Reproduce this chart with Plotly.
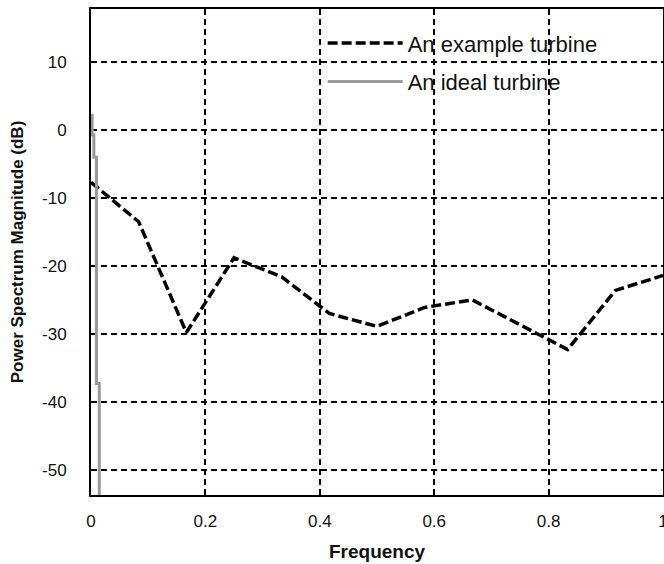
import plotly.graph_objects as go

# Example turbine power spectrum (dB) vs normalized frequency
freq_example = [0.0, 0.0833, 0.1667, 0.25, 0.3333, 0.4167, 0.5, 0.5833, 0.6667, 0.75, 0.8333, 0.9167, 1.0]
mag_example = [-7.7, -13.5, -29.8, -18.8, -21.6, -27.0, -28.9, -26.1, -25.0, -28.6, -32.3, -23.6, -21.4]

# Ideal turbine (steep drop near zero frequency)
freq_ideal = [0.002, 0.005, 0.0095, 0.0145, 0.0145]
mag_ideal = [2.4, -0.7, -4.0, -37.3, -60.0]

x_ticks = [0, 0.2, 0.4, 0.6, 0.8, 1]
x_ticklabels = ["0", "0.2", "0.4", "0.6", "0.8", "1"]
y_ticks = [10, 0, -10, -20, -30, -40, -50]
y_ticklabels = ["10", "0", "-10", "-20", "-30", "-40", "-50"]

FONT = "Liberation Sans, Arial, sans-serif"

fig = go.Figure()
fig.add_trace(go.Scatter(
    x=freq_example, y=mag_example, mode="lines", name="An example turbine",
    line=dict(color="black", width=3.5, dash="10px,4px"),
    legendgroup="a",
))
fig.add_trace(go.Scatter(
    x=freq_ideal, y=mag_ideal, mode="lines", name="An ideal turbine",
    line=dict(color="#999999", width=3, shape="vh"),
    legendgroup="b",
))

fig.update_layout(
    width=664, height=564,
    margin=dict(l=91, r=1, t=9, b=69),
    plot_bgcolor="white", paper_bgcolor="white",
    font=dict(family=FONT, size=17, color="#111111"),
    legend=dict(
        x=0.405, y=0.973, xanchor="left", yanchor="top",
        bgcolor="rgba(0,0,0,0)", font=dict(size=22, color="#111111"),
        itemwidth=75, traceorder="grouped", tracegroupgap=7,
    ),
    xaxis=dict(
        range=[0, 1], tickvals=x_ticks, ticktext=x_ticklabels,
        showgrid=True, gridcolor="black", gridwidth=1.5, griddash="6px,4px",
        zeroline=False, showline=True, linecolor="black", linewidth=2, mirror=True,
        ticks="", ticklabelstandoff=10, ticklabeloverflow="allow", automargin=False,
        title=dict(text="<b>Frequency</b>", font=dict(size=19), standoff=14),
    ),
    yaxis=dict(
        range=[-53.7, 17.8], tickvals=y_ticks, ticktext=y_ticklabels,
        showgrid=True, gridcolor="black", gridwidth=1.5, griddash="6px,4px",
        zeroline=False, showline=True, linecolor="black", linewidth=2, mirror=True,
        ticks="", ticklabelstandoff=19, automargin=False,
        title=dict(text="<b>Power Spectrum Magnitude (dB)</b>", font=dict(size=17), standoff=14),
    ),
)

fig.write_html("out.html")
